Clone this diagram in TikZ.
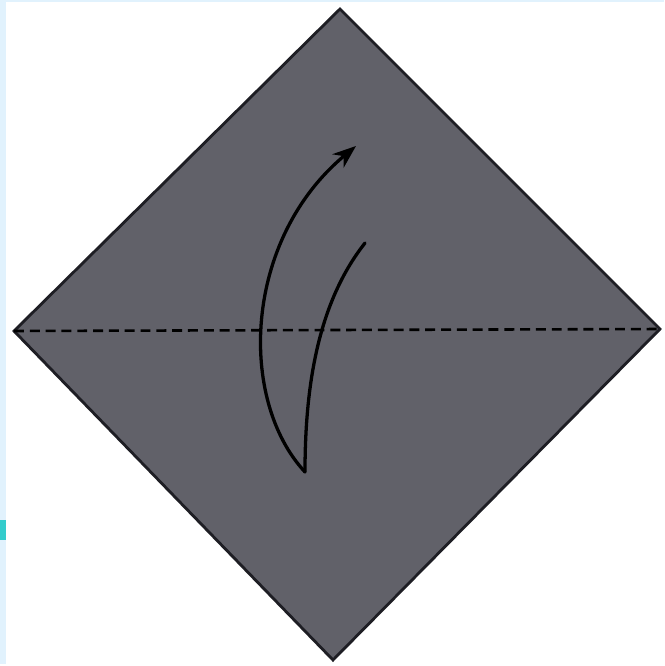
\documentclass[tikz,border=0pt]{standalone}
\usepackage{xcolor}
\usepackage{tikz}
\usetikzlibrary{arrows.meta}
\definecolor{paperGrey}{HTML}{616169}
\definecolor{edgeDark}{HTML}{1E1E24}
\definecolor{stripBlue}{HTML}{E1F2FD}
\definecolor{tabCyan}{HTML}{33CCCC}

\begin{document}
\begin{tikzpicture}[x=0.03cm,y=-0.03cm,>=Stealth,
  paper/.style={fill=paperGrey,draw=edgeDark,line width=2.4pt,line join=miter},
  foldline/.style={black,line width=2.2pt,dash pattern=on 8.5pt off 5pt},
  move/.style={black,line width=2.8pt,line cap=round}]
\useasboundingbox (0,0) rectangle (664,666);
\fill[white] (0,0) rectangle (664,666);
\fill[stripBlue] (0,0) rectangle (664,2);
\fill[stripBlue] (0,0) rectangle (6,664);
\fill[tabCyan] (0,520) rectangle (6,540);
% square sheet, turned as a diamond
\coordinate (top) at (340,9);
\coordinate (right) at (660,329);
\coordinate (bottom) at (333,660);
\coordinate (left) at (14,331);
\draw[paper] (top) -- (right) -- (bottom) -- (left) -- cycle;
% valley fold
\draw[foldline] (left) -- (right);
% fold-up arrow
\coordinate (tail) at (305,472);
\coordinate (tip) at (356,146);
\coordinate (inner) at (365,243);
\draw[move,-{Stealth[length=20pt,width=15pt]}] (tail) .. controls (238,400) and (243,240) .. (tip);
\draw[move] (tail) .. controls (305,380) and (320,300) .. (inner);
\end{tikzpicture}
\end{document}
